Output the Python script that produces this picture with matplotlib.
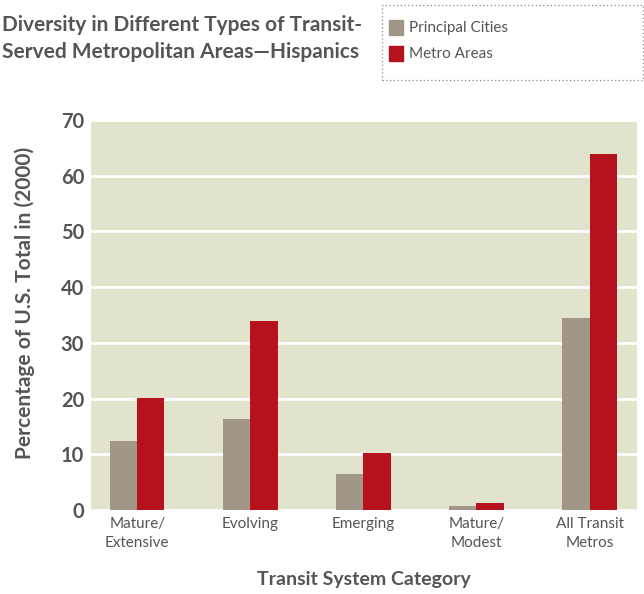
import matplotlib.pyplot as plt
from matplotlib.patches import Rectangle
from matplotlib import font_manager
import numpy as np

# ---------------------------------------------------------------- data ----
categories = ["Mature/\nExtensive", "Evolving", "Emerging", "Mature/\nModest", "All Transit\nMetros"]
principal_cities = [12.4, 16.3, 6.5, 0.8, 34.5]
metro_areas = [20.1, 33.9, 10.2, 1.2, 63.9]
series_names = ["Principal Cities", "Metro Areas"]

GREY_BAR = "#a29689"
RED_BAR = "#b5121e"
BG = "#e2e3cd"
TXT = "#555555"

plt.rcParams["font.family"] = ["Lato", "DejaVu Sans"]

# узкий шрифт для подписей категорий, если он есть
try:
    font_manager.findfont("Liberation Sans Narrow", fallback_to_default=False)
    NARROW = ["Liberation Sans Narrow", "DejaVu Sans"]
except ValueError:
    NARROW = ["Lato", "DejaVu Sans"]

fig = plt.figure(figsize=(6.44, 5.94), dpi=100)
ax = fig.add_axes([91 / 644, 1 - 510 / 594, 546 / 644, 390 / 594])

x = np.arange(len(categories))
w = 0.24
ax.bar(x - w / 2, principal_cities, w, color=GREY_BAR, zorder=3)
ax.bar(x + w / 2, metro_areas, w, color=RED_BAR, zorder=3)

ax.set_facecolor(BG)
ax.set_xlim(-0.41, 4.42)
ax.set_ylim(0, 70)
ax.set_yticks(range(0, 71, 10))
ax.yaxis.grid(True, color="white", linewidth=2, zorder=1)
ax.set_axisbelow(True)
for s in ax.spines.values():
    s.set_visible(False)
ax.tick_params(length=0)
ax.tick_params(axis="y", labelsize=14.5, labelcolor=TXT, pad=5)
for lab in ax.get_yticklabels():
    lab.set_fontweight("bold")
ax.set_xticks(x)
ax.set_xticklabels(categories, fontsize=11, color=TXT, family=NARROW, linespacing=1.45)
ax.tick_params(axis="x", pad=5)

ax.set_ylabel("Percentage of U.S. Total in (2000)", fontsize=15, color=TXT,
              fontweight="bold")
ax.yaxis.set_label_coords(-0.102, 0.53)
ax.set_xlabel("Transit System Category", fontsize=14, color=TXT,
              fontweight="bold", labelpad=15)

# title
fig.text(2 / 644, 1 - 15 / 594, "Diversity in Different Types of Transit-\nServed Metropolitan Areas\u2014Hispanics",
         fontsize=15, fontweight="bold", color=TXT, ha="left", va="top", linespacing=1.45)

# legend box (dotted)
box = Rectangle((382 / 644, 1 - 80 / 594), 261 / 644, 75 / 594, transform=fig.transFigure,
                fill=False, edgecolor="#888888", linestyle=(0, (1, 2)), linewidth=0.9)
fig.add_artist(box)
for i, (name, col) in enumerate(zip(series_names, [GREY_BAR, RED_BAR])):
    yc = 28 + i * 26
    fig.add_artist(Rectangle((389 / 644, 1 - (yc + 7) / 594), 14 / 644, 15 / 594,
                             transform=fig.transFigure, color=col))
    fig.text(409 / 644, 1 - yc / 594, name, fontsize=11, color=TXT, va="center", ha="left")

fig.savefig("out.png", dpi=100)
